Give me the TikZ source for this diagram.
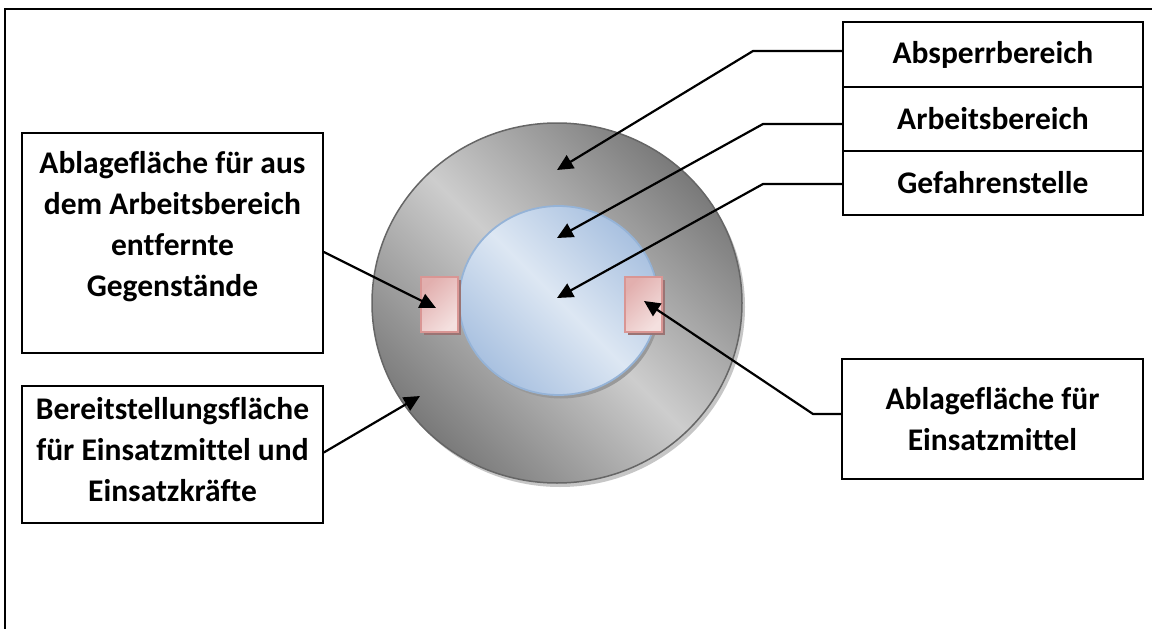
\documentclass[tikz,border=0pt]{standalone}
\usepackage{fontspec}
\setmainfont{Carlito}[Ligatures=CommonOff]
\usetikzlibrary{arrows.meta,shadings}
\definecolor{ringdark}{HTML}{7A7A7A}
\definecolor{ringlight}{HTML}{CDCDCD}
\definecolor{ringline}{HTML}{666666}
\definecolor{bluedark}{HTML}{A9C1E0}
\definecolor{bluelight}{HTML}{DDE7F3}
\definecolor{blueline}{HTML}{95B3D7}
\definecolor{pinkdark}{HTML}{E2AFAE}
\definecolor{pinklight}{HTML}{F4E0DF}
\definecolor{pinkline}{HTML}{D99694}
\definecolor{pinkshadow}{HTML}{9A7474}
\begin{document}
\begin{tikzpicture}[x=1pt,y=-1pt,
  box/.style={draw=black,line width=1.6pt,rectangle,inner sep=0pt},
  lbl/.style={font=\fontsize{31.5}{41}\selectfont\bfseries,align=center,inner sep=0pt},
  lead/.style={line width=2.2pt,-{Triangle[length=16pt,width=15pt]}}]
\clip (0,0) rectangle (1152,629);
\fill[white] (0,0) rectangle (1152,629);
\draw[line width=1.6pt] (5,9) rectangle (1200,700);

% rings
\fill[gray!45] (560,307) ellipse [x radius=185, y radius=180];
\shade[top color=ringdark, bottom color=ringdark, middle color=ringlight, shading angle=-45]
  (557,303) ellipse [x radius=185, y radius=180];
\draw[ringline, line width=1.5pt] (557,303) ellipse [x radius=185, y radius=180];

\fill[gray!80] (561,304) ellipse [x radius=99.5, y radius=94.5];
\shade[top color=bluedark, bottom color=bluedark, middle color=bluelight, shading angle=-45]
  (558.5,300.5) ellipse [x radius=99.5, y radius=94.5];
\draw[blueline, line width=1.8pt] (558.5,300.5) ellipse [x radius=99.5, y radius=94.5];

% small rectangles
\fill[pinkshadow] (424,280) rectangle (461,335);
\shade[top color=pinklight, bottom color=pinkdark, shading angle=-135] (421,277) rectangle (458,332);
\draw[pinkline, line width=1.8pt] (421,277) rectangle (458,332);
\fill[pinkshadow] (628,280) rectangle (665,335);
\shade[top color=pinklight, bottom color=pinkdark, shading angle=-135] (625,277) rectangle (662,332);
\draw[pinkline, line width=1.8pt] (625,277) rectangle (662,332);

% boxes
\node[box,lbl,minimum width=300pt,minimum height=65pt] (abs) at (993,54.5) {Absperrbereich};
\node[box,lbl,minimum width=300pt,minimum height=64pt] (arb) at (993,119) {Arbeitsbereich};
\node[box,lbl,minimum width=300pt,minimum height=64pt] (gef) at (993,183) {Gefahrenstelle};
\node[box,minimum width=301pt,minimum height=220pt] (lb1) at (172.5,243) {};
\node[lbl,anchor=north] (lb1t) at ([yshift=-19pt]lb1.north) {Ablagefläche für aus\\dem Arbeitsbereich\\entfernte\\Gegenstände};
\node[box,minimum width=301pt,minimum height=137pt] (lb2) at (172.5,454.5) {};
\node[lbl,anchor=north] (lb2t) at ([yshift=-12pt]lb2.north) {Bereitstellungsfläche\\für Einsatzmittel und\\Einsatzkräfte};
\node[box,lbl,minimum width=301pt,minimum height=120pt] (rb) at (992.5,419) {Ablagefläche für\\Einsatzmittel};

% leader coordinates
\coordinate (absb) at (753,51);
\coordinate (arbb) at (763,124);
\coordinate (gefb) at (763,184);
\coordinate (rbb) at (813,414);
\coordinate (tabs) at (557,170);
\coordinate (tarb) at (557,238);
\coordinate (tgef) at (557,298);
\coordinate (tl1) at (436,308);
\coordinate (tl2) at (420,396);
\coordinate (trb) at (644,301);

\draw[lead] (abs.west |- absb) -- (absb) -- (tabs);
\draw[lead] (arb.west |- arbb) -- (arbb) -- (tarb);
\draw[lead] (gef.west |- gefb) -- (gefb) -- (tgef);
\draw[lead] ([yshift=-9pt]lb1.east) -- (tl1);
\draw[lead] ([yshift=2pt]lb2.east) -- (tl2);
\draw[lead] (rb.west |- rbb) -- (rbb) -- (trb);
\end{tikzpicture}
\end{document}
